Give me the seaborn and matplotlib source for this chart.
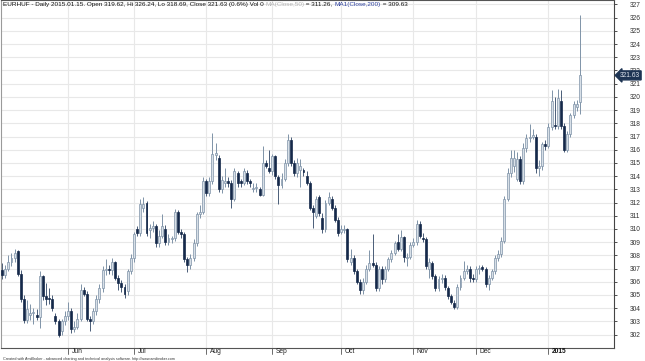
import numpy as np
import pandas as pd
import seaborn as sns
import matplotlib.pyplot as plt
import matplotlib.transforms as mtransforms

# EURHUF daily candles (May 2014 .. 2015-01-15)
last_date = '2015-01-15'

opens = [
    306.9, 306.5, 307.0, 307.5, 307.8, 308.3, 306.6, 304.7, 303.1, 303.5,
    303.6, 303.5, 303.3, 306.4, 304.9, 304.8, 304.7, 303.4, 303.0, 302.3,
    303.0, 303.4, 303.8, 302.4, 302.6, 303.2, 305.4, 305.1, 303.2, 303.0,
    303.8, 304.7, 305.5, 306.9, 307.0, 306.9, 307.5, 306.3, 305.9, 305.6,
    305.3, 306.8, 307.8, 310.0, 309.7, 311.6, 312.0, 309.9, 310.1, 310.2,
    308.9, 309.5, 310.0, 309.0, 309.2, 309.3, 311.3, 309.8, 309.6, 307.7,
    307.3, 307.8, 308.9, 311.1, 311.3, 313.6, 312.7, 313.6, 315.6, 315.4,
    313.0, 313.5, 313.6, 313.5, 312.3, 314.2, 313.6, 313.5, 314.2, 313.6,
    313.0, 313.1, 313.0, 312.6, 315.0, 314.6, 314.4, 315.5, 313.9, 313.3,
    313.8, 315.0, 316.7, 315.0, 314.2, 314.5, 314.5, 314.0, 313.5, 311.6,
    311.0, 312.4, 310.8, 310.0, 312.0, 312.3, 311.6, 310.7, 309.8, 309.9,
    310.0, 307.5, 307.8, 306.8, 306.0, 305.4, 306.0, 307.0, 307.4, 307.3,
    305.5, 307.0, 306.2, 307.0, 307.7, 308.2, 309.0, 308.5, 309.4, 307.8,
    307.9, 308.8, 309.0, 310.4, 309.3, 309.2, 307.0, 307.4, 306.4, 305.5,
    306.2, 306.3, 305.5, 304.9, 304.4, 304.1, 305.6, 306.3, 306.8, 307.0,
    306.3, 306.2, 307.0, 307.1, 307.0, 305.8, 306.3, 306.8, 307.8, 308.1,
    309.1, 312.3, 314.2, 314.8, 313.8, 315.3, 313.6, 316.1, 316.9, 317.0,
    317.0, 314.6, 314.8, 316.4, 316.3, 317.7, 317.9, 317.8, 319.7, 317.8,
    316.0, 317.2, 318.6, 319.2, 319.62,
]
highs = [
    307.4, 307.3, 308.0, 308.2, 308.5, 308.4, 306.9, 305.0, 304.6, 304.3,
    304.0, 303.9, 306.8, 306.5, 305.9, 305.5, 305.0, 303.6, 303.2, 303.2,
    303.8, 304.5, 304.0, 303.0, 303.6, 305.8, 305.6, 305.3, 303.4, 304.0,
    305.0, 305.8, 307.2, 307.7, 307.3, 307.8, 307.6, 306.5, 306.1, 305.8,
    307.0, 308.1, 309.8, 310.2, 312.3, 312.4, 312.1, 310.4, 310.6, 310.4,
    309.9, 311.1, 310.3, 309.6, 309.5, 311.5, 311.4, 310.0, 309.8, 307.9,
    308.1, 309.2, 311.3, 311.8, 313.9, 313.8, 313.9, 317.3, 316.5, 315.6,
    314.0, 314.6, 313.9, 313.7, 314.6, 314.4, 313.8, 314.6, 314.5, 313.8,
    313.5, 313.5, 313.2, 316.3, 315.2, 316.0, 315.7, 315.6, 314.1, 314.2,
    315.3, 317.2, 317.0, 315.2, 315.4, 315.3, 314.6, 314.4, 313.6, 311.8,
    312.5, 312.6, 311.2, 312.2, 312.8, 312.5, 311.8, 310.9, 310.3, 310.3,
    310.1, 308.5, 308.0, 307.0, 306.2, 306.3, 307.3, 308.4, 309.6, 307.5,
    307.2, 307.2, 307.2, 307.9, 308.4, 309.1, 309.6, 309.9, 309.5, 308.2,
    309.0, 309.3, 310.7, 310.6, 309.7, 309.4, 307.8, 307.6, 306.6, 306.4,
    306.6, 306.5, 305.7, 305.1, 304.6, 305.8, 306.5, 307.6, 307.3, 307.2,
    306.6, 307.2, 307.3, 307.3, 307.1, 306.5, 307.0, 308.0, 308.4, 309.4,
    312.5, 314.6, 316.0, 316.0, 315.8, 315.5, 316.5, 317.2, 317.95, 317.6,
    317.2, 315.2, 316.6, 316.7, 318.0, 320.5, 320.0, 320.6, 320.5, 318.0,
    317.4, 318.8, 319.7, 319.8, 326.24,
]
lows = [
    306.2, 306.3, 306.8, 307.2, 307.5, 306.4, 304.5, 302.9, 302.9, 303.1,
    302.8, 303.1, 302.5, 304.6, 304.2, 304.3, 303.8, 302.8, 301.8, 302.0,
    302.7, 303.1, 302.1, 302.2, 302.4, 303.0, 304.9, 303.0, 302.3, 302.8,
    303.5, 304.4, 305.2, 306.5, 306.6, 306.5, 306.1, 305.4, 305.2, 304.8,
    305.0, 306.6, 307.5, 309.5, 309.5, 311.3, 309.5, 309.3, 309.8, 308.6,
    308.6, 309.3, 308.8, 308.8, 308.9, 309.1, 309.6, 309.3, 307.5, 306.7,
    307.0, 307.6, 308.7, 310.8, 311.1, 312.5, 312.5, 313.4, 315.2, 312.8,
    312.7, 313.2, 313.2, 311.6, 312.1, 313.2, 313.2, 313.3, 313.4, 313.2,
    312.8, 312.8, 312.5, 312.5, 314.6, 314.2, 314.1, 313.8, 311.9, 313.1,
    313.6, 314.8, 314.8, 314.0, 313.9, 313.2, 314.0, 313.3, 311.4, 310.1,
    310.8, 311.0, 309.7, 309.8, 311.8, 311.4, 310.5, 309.5, 309.6, 309.7,
    307.5, 307.3, 306.6, 305.8, 305.1, 305.1, 305.8, 306.8, 307.1, 305.3,
    305.3, 305.8, 306.0, 306.8, 307.5, 308.0, 308.3, 308.3, 307.5, 307.2,
    307.7, 308.6, 308.8, 309.3, 309.0, 307.0, 306.3, 306.2, 305.3, 305.3,
    305.9, 305.4, 304.7, 304.3, 303.9, 303.9, 305.4, 306.1, 306.6, 306.0,
    306.0, 306.0, 306.6, 306.8, 305.6, 305.4, 306.1, 306.6, 307.6, 307.9,
    308.9, 312.1, 313.9, 314.3, 313.6, 313.4, 313.4, 315.8, 316.6, 316.8,
    314.2, 314.0, 314.5, 316.0, 316.1, 317.5, 317.6, 317.6, 317.6, 315.8,
    315.8, 317.0, 318.4, 318.9, 318.69,
]
closes = [
    306.5, 307.0, 307.5, 307.8, 308.2, 306.6, 304.7, 303.1, 303.9, 303.6,
    303.7, 303.3, 306.4, 304.9, 304.7, 304.7, 304.0, 303.0, 302.0, 303.0,
    303.4, 303.8, 302.4, 302.6, 303.2, 305.4, 305.1, 303.2, 303.0, 303.8,
    304.7, 305.5, 306.9, 307.0, 306.9, 307.5, 306.3, 305.9, 305.6, 305.1,
    306.8, 307.8, 309.6, 309.7, 311.9, 311.9, 309.7, 310.1, 310.2, 308.9,
    309.5, 310.2, 309.0, 309.3, 309.3, 311.3, 309.8, 309.6, 307.7, 307.3,
    307.8, 308.9, 311.1, 311.3, 313.6, 312.7, 313.6, 315.7, 315.75, 313.0,
    313.7, 313.6, 313.5, 312.3, 314.4, 313.5, 313.5, 314.4, 313.6, 313.5,
    313.1, 313.2, 312.6, 315.0, 314.8, 314.4, 315.5, 314.0, 313.3, 313.8,
    315.0, 316.7, 315.0, 314.2, 315.0, 314.8, 314.3, 313.5, 311.6, 311.3,
    312.3, 311.2, 310.0, 312.0, 312.4, 311.6, 310.7, 309.7, 310.0, 310.0,
    307.7, 307.8, 306.8, 306.0, 305.4, 306.0, 307.0, 307.4, 307.3, 305.5,
    307.0, 306.2, 307.0, 307.7, 308.2, 308.9, 308.5, 309.4, 307.9, 307.9,
    308.8, 309.0, 310.4, 309.5, 309.2, 307.2, 307.5, 306.4, 305.5, 306.2,
    306.3, 305.6, 304.9, 304.5, 304.1, 305.6, 306.3, 306.8, 307.0, 306.3,
    306.2, 307.0, 307.0, 307.0, 305.8, 306.3, 306.8, 307.8, 308.1, 309.1,
    312.3, 314.2, 315.4, 315.4, 315.3, 313.6, 316.1, 316.9, 317.0, 317.1,
    314.6, 314.8, 316.4, 316.3, 317.7, 319.7, 317.8, 319.9, 317.8, 316.0,
    317.2, 318.6, 319.5, 319.5, 321.63,
]
y_ticks = list(range(302, 328))
month_labels = {5: 'May', 6: 'Jun', 7: 'Jul', 8: 'Aug', 9: 'Sep',
                10: 'Oct', 11: 'Nov', 12: 'Dec'}

title_parts = [
    ('EURHUF - Daily 2015.01.15. Open 319.62, Hi 326.24, Lo 318.69, '
     'Close 321.63 (0.6%) Vol 0 ', '#111111'),
    ('MA(Close,50)', '#b4b4b4'),
    (' = 311.26, ', '#111111'),
    ('MA1(Close,200)', '#2b3f9e'),
    (' = 309.63', '#111111'),
]
footer = ('Created with AmiBroker - advanced charting and technical analysis '
          'software. http://www.amibroker.com')

df = pd.DataFrame({'Open': opens, 'High': highs, 'Low': lows, 'Close': closes})
df['Date'] = pd.bdate_range(end=last_date, periods=len(df))
df['idx'] = np.arange(len(df))
df['up'] = df['Close'] >= df['Open']

sns.set_theme(style='white')
plt.rcParams['font.family'] = ['Liberation Sans', 'DejaVu Sans']

fig = plt.figure(figsize=(6.45, 3.61), dpi=100)
ax = fig.add_axes([0.0015, 0.036, 0.950, 0.964])

up_fill, up_edge = '#d7dfe7', '#7f93a8'
dn_fill = '#15294a'

# wicks
ax.vlines(df['idx'], df['Low'], df['High'],
          colors=np.where(df['up'], up_edge, '#4a5d78'), linewidth=0.7, zorder=2)
# bodies
body_lo = df[['Open', 'Close']].min(axis=1)
body_h = (df['Close'] - df['Open']).abs().clip(lower=0.06)
ax.bar(df['idx'], body_h, bottom=body_lo, width=0.62,
       color=np.where(df['up'], up_fill, dn_fill),
       edgecolor=np.where(df['up'], up_edge, dn_fill), linewidth=0.5, zorder=3)

ax.set_ylim(300.98, 327.34)
ax.set_xlim(-0.35, 194.8)

# horizontal grid + right axis
ax.yaxis.tick_right()
ax.set_yticks(y_ticks)
ax.set_yticklabels([str(v) for v in y_ticks])
ax.tick_params(axis='y', direction='out', length=2.5, width=0.6, pad=9,
               labelsize=4.8, colors='#333333', right=True)
ax.grid(axis='y', color='#e8e8e8', linewidth=0.8)
ax.set_axisbelow(True)
ax.set_xticks([])

# month markers
month_first = df.groupby([df['Date'].dt.year, df['Date'].dt.month])['idx'].first().iloc[1:]
trans = mtransforms.blended_transform_factory(ax.transData, ax.transAxes)
for (yr, mo), pos in month_first.items():
    ax.axvline(pos, color='#e8e8e8', linewidth=0.8, zorder=0)
    ax.plot([pos, pos], [0, -0.016], transform=trans, clip_on=False,
            color='#555555', linewidth=0.6)
    label = str(yr) if mo == 1 else month_labels[mo]
    ax.text(pos + 1.1, -0.001, label, transform=trans, ha='left', va='top',
            fontsize=4.8, color='#111111' if mo == 1 else '#222222',
            fontweight='bold' if mo == 1 else 'normal')

for side, col in [('left', '#9a9a9a'), ('top', '#555555'),
                  ('right', '#444444'), ('bottom', '#555555')]:
    ax.spines[side].set_color(col)
    ax.spines[side].set_linewidth(0.8)

# title line made of coloured pieces
prev = ax.text(0.003, 0.995, title_parts[0][0], transform=ax.transAxes,
               ha='left', va='top', fontsize=4.6, color=title_parts[0][1])
for txt, col in title_parts[1:]:
    prev = ax.annotate(txt, xy=(1, 0), xycoords=prev, ha='left', va='bottom',
                       fontsize=4.6, color=col)

# last price marker
mtrans = mtransforms.blended_transform_factory(ax.transAxes, ax.transData)
ax.annotate(f'{closes[-1]:.2f}', xy=(1.0, closes[-1]), xycoords=mtrans,
            xytext=(4.5, 0), textcoords='offset points', ha='left', va='center',
            fontsize=4.8, color='#dfe6ee', zorder=10, annotation_clip=False,
            bbox=dict(boxstyle='larrow,pad=0.15', fc='#1d3453', ec='#1d3453'))

fig.text(0.005, 0.0005, footer, fontsize=2.7, color='#333333', ha='left', va='bottom')

plt.savefig('out.png', dpi=100)
